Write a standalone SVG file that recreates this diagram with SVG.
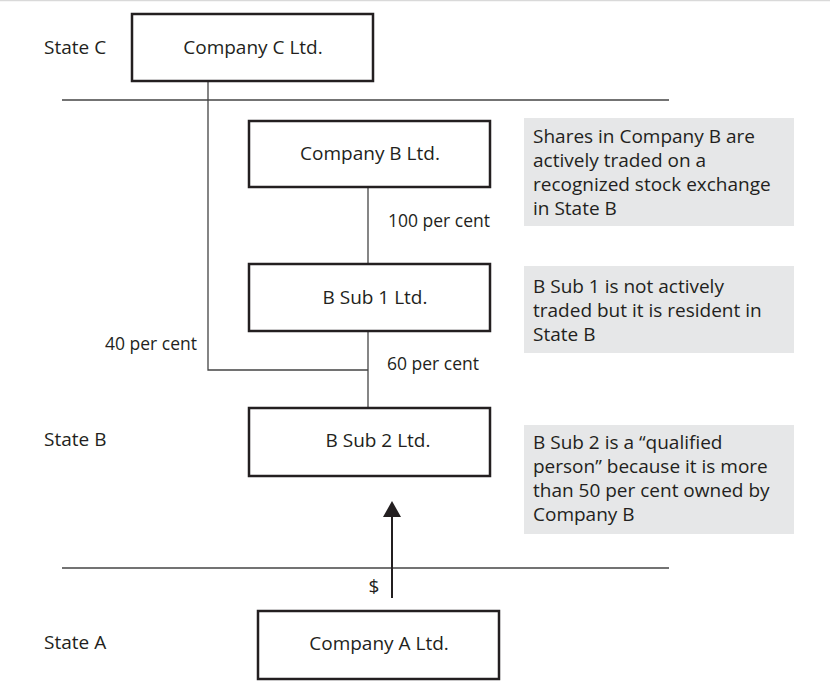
<svg xmlns="http://www.w3.org/2000/svg" width="830" height="696" viewBox="0 0 830 696">
<defs>
<style>
text{font-family:"Open Sans","Liberation Sans",sans-serif;font-size:19px;fill:#231f20}
.pc{font-size:17.5px}
.box{fill:#fff;stroke:#231f20;stroke-width:2.5}
.note{fill:#e6e7e8;stroke:none}
.ln{stroke:#444;stroke-width:1.3;fill:none}
.mid{text-anchor:middle}
</style>
</defs>
<rect x="0" y="0" width="830" height="696" fill="#fff"/>
<line x1="0" y1="0.5" x2="830" y2="0.5" stroke="#d9d9d9" stroke-width="1.5"/>
<g id="borders">
<line class="ln" x1="62" y1="100" x2="669" y2="100"/>
<line class="ln" x1="62" y1="568" x2="669" y2="568"/>
</g>
<g id="state-labels">
<text x="44" y="54">State C</text>
<text x="44" y="446">State B</text>
<text x="44" y="649">State A</text>
</g>
<g id="connectors">
<polyline class="ln" points="208,81 208,370 368,370"/>
<line class="ln" x1="368" y1="187" x2="368" y2="264"/>
<line class="ln" x1="368" y1="331" x2="368" y2="408"/>
<line x1="392" y1="598" x2="392" y2="510" stroke="#231f20" stroke-width="2"/>
<path d="M392,501 L383,517 L401,517 Z" fill="#231f20"/>
<text class="pc" x="388" y="227">100 per cent</text>
<text class="pc" x="105" y="350">40 per cent</text>
<text class="pc" x="387" y="370">60 per cent</text>
<text x="374" y="593" class="mid">$</text>
</g>
<g id="company-c">
<rect class="box" x="132" y="14" width="241" height="67"/>
<text x="253" y="54" class="mid">Company C Ltd.</text>
</g>
<g id="company-b">
<rect class="box" x="249" y="121" width="241" height="66"/>
<text x="370" y="160" class="mid">Company B Ltd.</text>
</g>
<g id="b-sub-1">
<rect class="box" x="249" y="264" width="241" height="67"/>
<text x="375" y="304" class="mid">B Sub 1 Ltd.</text>
</g>
<g id="b-sub-2">
<rect class="box" x="249" y="408" width="241" height="68"/>
<text x="378" y="447" class="mid">B Sub 2 Ltd.</text>
</g>
<g id="company-a">
<rect class="box" x="258" y="611" width="241" height="68"/>
<text x="379" y="650" class="mid">Company A Ltd.</text>
</g>
<g id="note-b">
<rect class="note" x="524" y="118" width="270" height="108"/>
<text x="533" y="143">Shares in Company B are</text>
<text x="533" y="167">actively traded on a</text>
<text x="533" y="191">recognized stock exchange</text>
<text x="533" y="215">in State B</text>
</g>
<g id="note-sub1">
<rect class="note" x="524" y="266" width="270" height="87"/>
<text x="533" y="293">B Sub 1 is not actively</text>
<text x="533" y="317">traded but it is resident in</text>
<text x="533" y="341">State B</text>
</g>
<g id="note-sub2">
<rect class="note" x="524" y="425" width="270" height="109"/>
<text x="533" y="449">B Sub 2 is a “qualified</text>
<text x="533" y="473">person” because it is more</text>
<text x="533" y="497">than 50 per cent owned by</text>
<text x="533" y="521">Company B</text>
</g>
</svg>
